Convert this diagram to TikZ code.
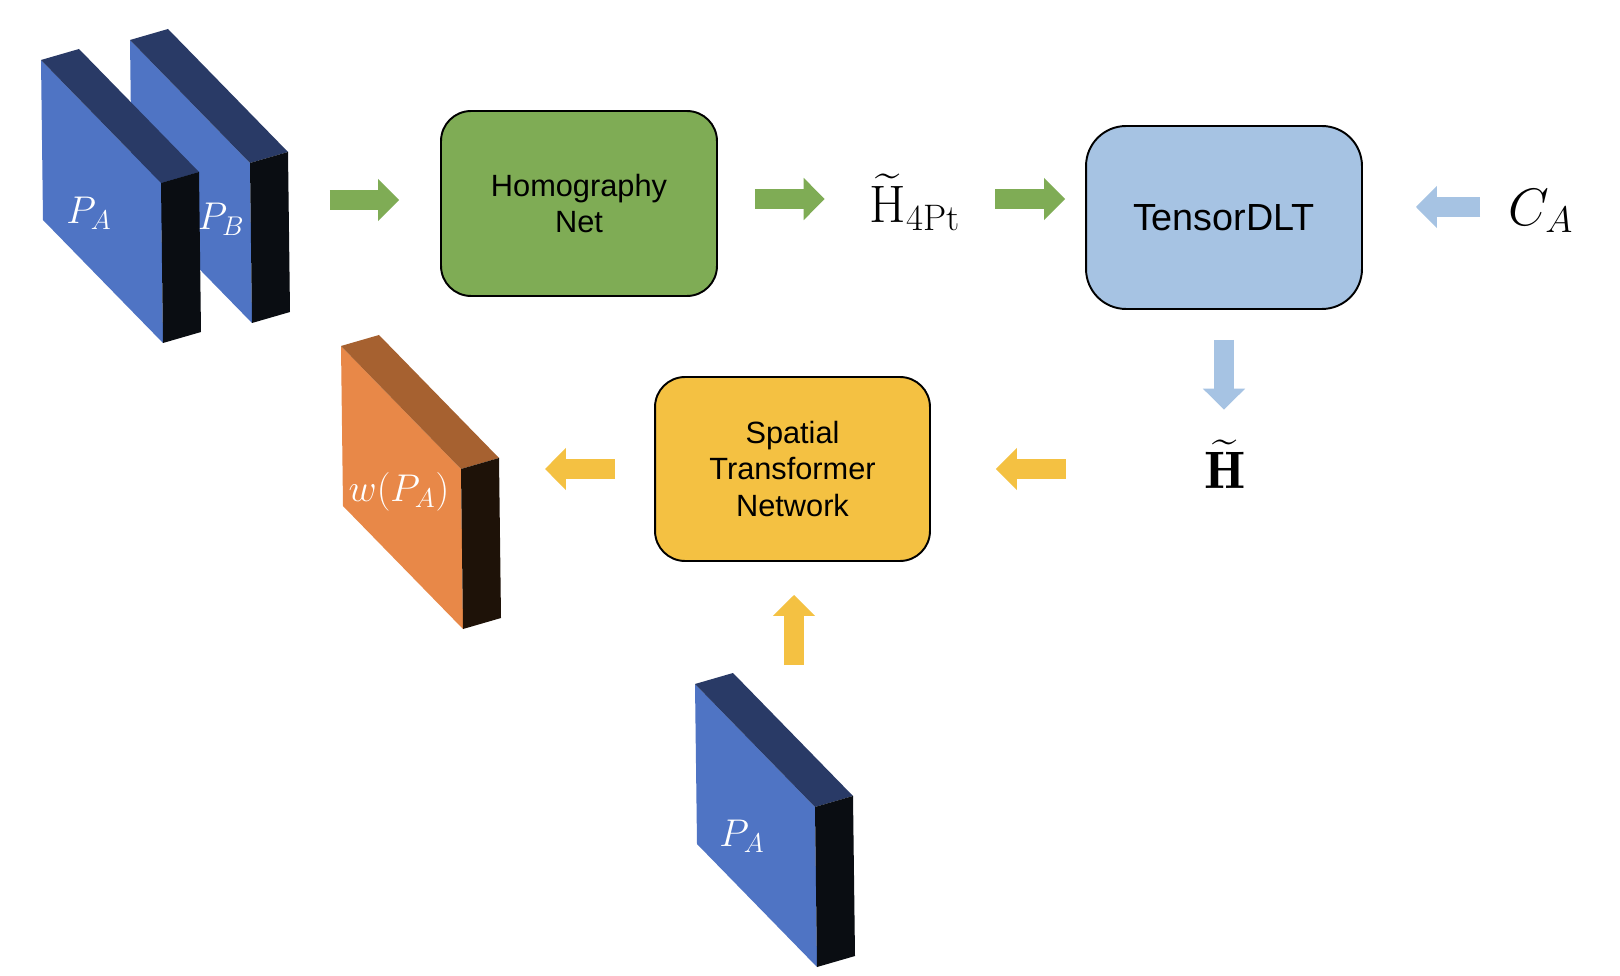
\RequirePackage{fix-cm}
\documentclass[tikz,border=0pt]{standalone}
\usepackage{amsmath}
\usepackage{fontspec}
\newfontfamily\boxfont{Liberation Sans}
\usetikzlibrary{arrows.meta}

\definecolor{bfront}{RGB}{79,116,196}
\definecolor{btop}{RGB}{41,58,102}
\definecolor{bside}{RGB}{10,13,18}
\definecolor{ofront}{RGB}{232,136,72}
\definecolor{otop}{RGB}{166,97,48}
\definecolor{oside}{RGB}{30,18,8}
\definecolor{hgreen}{RGB}{127,172,85}
\definecolor{lblue}{RGB}{166,195,227}
\definecolor{syellow}{RGB}{244,193,66}

\tikzset{
  netbox/.style={draw=black, line width=1.1pt, rounded corners=0.6cm, inner sep=0pt,
    minimum width=5.52cm, minimum height=3.7cm, align=center,
    font=\boxfont\fontsize{17.5}{20.5}\selectfont},
  mathlabel/.style={inner sep=0pt, font=\fontsize{30}{33}\selectfont},
  slablabel/.style={text=white, inner sep=0pt, font=\fontsize{22}{25}\selectfont},
  blockarrow/.style={line width=0.4cm, -{Triangle[width=0.82cm,length=0.42cm]}},
}

\begin{document}
\begin{tikzpicture}[x=0.02cm, y=-0.02cm]

\useasboundingbox[fill=white] (0,0) rectangle (1620,976);

% Input patch P_B (behind)
\begin{scope}[shift={(130,40)}]
\fill[bfront] (0,0) -- (120,123) -- (122,283) -- (2,160) -- cycle;
\fill[btop] (0,0) -- (38,-11) -- (158,112) -- (120,123) -- cycle;
\fill[bside] (120,123) -- (158,112) -- (160,272) -- (122,283) -- cycle;
\node[slablabel] (pb) at (91,179) {$P_B$};
\coordinate (pbR) at (160,160);
\end{scope}

% Input patch P_A (front)
\begin{scope}[shift={(41,60)}]
\fill[bfront] (0,0) -- (120,123) -- (122,283) -- (2,160) -- cycle;
\fill[btop] (0,0) -- (38,-11) -- (158,112) -- (120,123) -- cycle;
\fill[bside] (120,123) -- (158,112) -- (160,272) -- (122,283) -- cycle;
\node[slablabel] (pa) at (48,153) {$P_A$};
\end{scope}

% Warped patch
\begin{scope}[shift={(341,346)}]
\fill[ofront] (0,0) -- (120,123) -- (122,283) -- (2,160) -- cycle;
\fill[otop] (0,0) -- (38,-11) -- (158,112) -- (120,123) -- cycle;
\fill[oside] (120,123) -- (158,112) -- (160,272) -- (122,283) -- cycle;
\node[slablabel] (wpa) at (58,146) {$w(P_A)$};
\coordinate (wR) at (160,123);
\end{scope}

% Patch P_A fed to the STN
\begin{scope}[shift={(695,684)}]
\fill[bfront] (0,0) -- (120,123) -- (122,283) -- (2,160) -- cycle;
\fill[btop] (0,0) -- (38,-11) -- (158,112) -- (120,123) -- cycle;
\fill[bside] (120,123) -- (158,112) -- (160,272) -- (122,283) -- cycle;
\node[slablabel] (pa2) at (47,152) {$P_A$};
\coordinate (pa2T) at (99,1);
\end{scope}

% Blocks
\node[netbox, fill=hgreen] (hnet) at (579,203.5) {Homography\\Net};
\node[netbox, fill=lblue, rounded corners=0.8cm, minimum height=3.66cm,
  font=\boxfont\fontsize{21.5}{24}\selectfont] (tdlt) at (1224,217.5) {TensorDLT};
\node[netbox, fill=syellow, minimum width=5.5cm, minimum height=3.68cm] (stn) at (792.5,469)
  {Spatial\\Transformer\\Network};

% Labels
\node[mathlabel, minimum width=2cm, minimum height=1cm] (h4pt) at (915,202)
  {$\widetilde{\mathrm{H}}_{\mathrm{4Pt}}$};
\node[mathlabel, minimum width=1cm, minimum height=1cm] (ca) at (1541,211) {$C_A$};
\node[mathlabel, minimum width=1cm, minimum height=1cm] (hmat) at (1225,464)
  {$\widetilde{\mathbf{H}}$};

% Arrows
\coordinate (row) at (0,199);
\coordinate (rowca) at (0,207);
\coordinate (rowm) at (0,469);
\draw[blockarrow, hgreen, shorten <=0.8cm, shorten >=0.82cm] (pbR) -- (hnet.west |- pbR);
\draw[blockarrow, hgreen, shorten <=0.74cm, shorten >=0.8cm] (hnet.east |- row) -- (h4pt.west |- row);
\draw[blockarrow, hgreen, shorten <=0.6cm, shorten >=0.4cm] (h4pt.east |- row) -- (tdlt.west |- row);
\draw[blockarrow, lblue, shorten <=0.56cm, shorten >=1.06cm] (ca.west |- rowca) -- (tdlt.east |- rowca);
\draw[blockarrow, lblue, shorten <=0.6cm, shorten >=0.58cm] (tdlt.south) -- (tdlt.south |- hmat.north);
\draw[blockarrow, syellow, shorten <=2.68cm, shorten >=1.3cm] (hmat.west |- rowm) -- (stn.east |- rowm);
\draw[blockarrow, syellow, shorten <=0.78cm, shorten >=0.88cm] (stn.west) -- (wR);
\draw[blockarrow, syellow, shorten <=0.4cm, shorten >=0.66cm] (pa2T) -- (pa2T |- stn.south);

\end{tikzpicture}
\end{document}
